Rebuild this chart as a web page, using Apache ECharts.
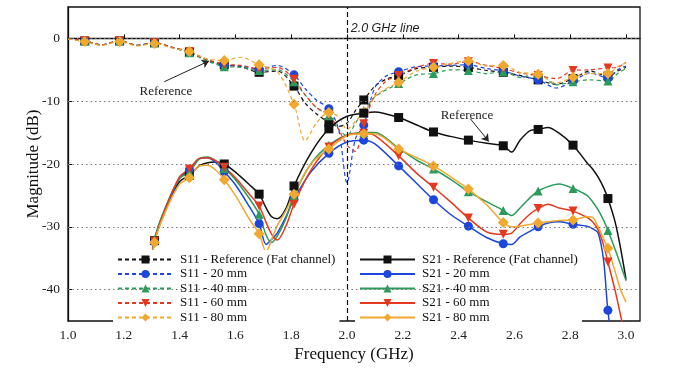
<!DOCTYPE html>
<html>
<head>
<meta charset="utf-8">
<script src="https://cdn.jsdelivr.net/npm/echarts@6.0.0/dist/echarts.min.js"></script>
<style>
  html, body { margin: 0; padding: 0; background: #fff; }
  #chart { width: 681px; height: 368px; }
</style>
</head>
<body>
<div id="chart"></div>
<script>
// frequencies where the markers sit
const MARKS = [1.06, 1.185, 1.31, 1.435, 1.56, 1.685, 1.81, 1.935, 2.06, 2.185, 2.31, 2.435, 2.56, 2.685, 2.81, 2.935];
const X_TICKS = [1.0, 1.2, 1.4, 1.6, 1.8, 2.0, 2.2, 2.4, 2.6, 2.8, 3.0];
const Y_TICKS = [0, -10, -20, -30, -40];

// S11 (dashed)
const F11 = [1.0, 1.03, 1.06, 1.12, 1.185, 1.25, 1.31, 1.37, 1.435, 1.5, 1.56, 1.62, 1.685, 1.75, 1.81, 1.85, 1.89, 1.935, 1.97, 2.0,
  2.03, 2.06, 2.1, 2.14, 2.185, 2.25, 2.31, 2.37, 2.435, 2.5, 2.56, 2.62, 2.685, 2.75, 2.81, 2.87, 2.935, 2.97, 3.0];
const S11_REF = [-0.1, -0.2, -0.4, -1.0, -0.4, -1.1, -0.7, -1.4, -2.2, -3.4, -4.2, -4.5, -5.4, -5.2, -7.6, -10.3, -12.0, -13.4, -14.0, -13.5,
  -11.5, -9.8, -7.6, -6.5, -5.9, -4.8, -4.6, -4.4, -4.6, -5.1, -5.4, -5.9, -6.6, -7.3, -6.4, -5.2, -6.0, -5.2, -4.6];
const S11_20 = [-0.1, -0.2, -0.4, -1.0, -0.4, -1.1, -0.7, -1.4, -2.2, -3.5, -4.3, -4.4, -4.9, -4.3, -5.8, -8.0, -9.8, -11.2, -14.5, -23.0,
  -16.0, -13.8, -7.8, -6.0, -5.3, -4.5, -4.4, -4.3, -4.2, -4.8, -5.2, -6.0, -6.6, -7.9, -6.8, -5.5, -6.3, -5.0, -4.4];
const S11_40 = [-0.1, -0.2, -0.4, -1.0, -0.4, -1.1, -0.7, -1.4, -2.3, -3.6, -4.5, -4.6, -5.1, -5.0, -6.9, -9.0, -11.0, -12.3, -14.5, -15.5,
  -13.5, -11.5, -9.3, -8.2, -7.2, -5.8, -5.6, -5.0, -5.1, -5.6, -5.3, -6.2, -5.6, -7.4, -6.9, -6.6, -6.8, -5.6, -4.8];
const S11_60 = [-0.1, -0.2, -0.4, -1.0, -0.4, -1.1, -0.7, -1.4, -2.1, -3.4, -4.1, -4.3, -4.8, -4.6, -6.5, -9.0, -11.0, -12.2, -14.5, -17.0,
  -18.0, -13.6, -9.0, -6.8, -5.9, -4.6, -4.0, -4.1, -3.7, -4.3, -4.8, -5.5, -5.9, -6.4, -5.1, -5.0, -4.7, -4.6, -3.8];
const S11_80 = [-0.1, -0.3, -0.5, -1.1, -0.5, -1.2, -0.8, -1.5, -2.1, -3.3, -3.5, -3.0, -4.2, -5.3, -10.5, -16.3, -13.5, -11.8, -12.5, -14.5,
  -13.2, -11.8, -9.3, -8.0, -7.0, -5.2, -4.6, -4.0, -3.6, -4.4, -4.3, -5.4, -5.7, -7.1, -6.2, -5.6, -5.6, -4.5, -3.9];

// S21 (solid)
const F21 = [1.26, 1.31, 1.35, 1.40, 1.435, 1.47, 1.5, 1.53, 1.56, 1.6, 1.65, 1.685, 1.71, 1.73, 1.75, 1.78, 1.81, 1.87, 1.935, 2.0,
  2.06, 2.1, 2.185, 2.25, 2.31, 2.37, 2.435, 2.5, 2.56, 2.59, 2.62, 2.66, 2.685, 2.72, 2.76, 2.81, 2.86, 2.88, 2.9, 2.92,
  2.935, 2.96, 2.98, 3.0];
const S21_REF = [-47, -32.2, -27, -22.8, -21.8, -20.3, -19.8, -19.7, -20.0, -21.3, -23.3, -24.8, -27, -28.4, -28.7, -27.2, -23.5, -18.3, -14.4, -12.4,
  -11.9, -11.7, -12.6, -13.8, -14.9, -15.6, -16.2, -16.7, -17.1, -18.1, -16.2, -14.6, -14.5, -14.2, -15.1, -17.0, -19.8, -20.8, -22.1, -23.8,
  -25.5, -29.1, -33.3, -38.4];
const S21_20 = [-47, -32.4, -27.3, -22.3, -20.9, -19.2, -19.0, -19.8, -21.2, -23.3, -26.8, -29.5, -32.8, -32.0, -31.0, -28.5, -25.6, -21.3, -18.3, -16.5,
  -16.2, -16.8, -20.3, -23.1, -25.7, -28.0, -29.9, -31.7, -32.7, -32.8, -31.6, -30.6, -30.0, -29.4, -29.2, -29.6, -29.9, -30.3, -31.0, -35.5,
  -43.3, -50, -50, -50];
const S21_40 = [-47, -32.0, -26.8, -22.3, -21.3, -19.2, -18.9, -19.5, -20.7, -22.5, -25.5, -28.0, -31.3, -32.5, -31.5, -28.8, -25.0, -20.0, -17.0, -15.4,
  -15.0, -15.0, -17.5, -19.4, -20.8, -22.4, -24.4, -26.0, -27.4, -28.2, -27.0, -25.2, -24.3, -23.6, -23.2, -23.9, -25.0, -26.0, -27.3, -29.0,
  -30.6, -33.5, -36.0, -38.6];
const S21_60 = [-47, -32.3, -27.0, -22.0, -20.8, -19.1, -19.0, -19.5, -20.5, -22.2, -24.8, -26.7, -29.3, -31.2, -32.1, -30.0, -26.4, -21.0, -17.3, -15.4,
  -15.1, -15.5, -18.7, -21.5, -23.7, -26.0, -28.6, -30.8, -31.2, -31.0, -29.5, -27.8, -27.1, -26.4, -27.0, -27.5, -28.5, -29.2, -30.5, -33.0,
  -35.6, -40.0, -44.0, -48.0];
const S21_80 = [-47, -32.5, -27.5, -23.2, -22.2, -20.3, -20.2, -21.0, -22.5, -25.0, -28.8, -31.1, -34.0, -32.0, -29.8, -27.5, -24.8, -20.0, -17.6, -15.5,
  -15.2, -15.2, -17.6, -19.0, -20.3, -22.0, -24.0, -26.5, -29.3, -30.0, -29.9, -29.6, -29.4, -29.2, -29.0, -28.9, -28.4, -28.5, -30.0, -32.0,
  -33.4, -37.0, -40.0, -42.0];

const SERIF = "'Liberation Serif', 'Times New Roman', serif";
const BLACK = '#111', BLUE = '#1c46dc', GREEN = '#2a9b5b', RED = '#e5391f', ORANGE = '#f0a92e';

// only marker frequencies get a symbol
function build(freqs, vals) {
  return freqs.map((f, i) => MARKS.some(m => Math.abs(m - f) < 1e-6)
    ? [f, vals[i]]
    : { value: [f, vals[i]], symbol: 'none' });
}

function mk(name, freqs, vals, color, symbol, dashed) {
  return {
    name: name,
    type: 'line',
    data: build(freqs, vals),
    smooth: 0.3,
    symbol: symbol,
    symbolSize: symbol === 'diamond' ? 11 : 9,
    symbolRotate: name.endsWith('60 mm') ? 180 : 0,
    showSymbol: true,
    clip: true,
    z: 3,
    itemStyle: { color: color },
    lineStyle: { color: color, width: dashed ? 1.2 : 1.5, type: dashed ? [4, 3] : 'solid' },
    emphasis: { disabled: true },
    animation: false
  };
}

const s11Names = ['S11 - Reference (Fat channel)', 'S11 - 20 mm', 'S11 - 40 mm', 'S11 - 60 mm', 'S11 - 80 mm'];
const s21Names = ['S21 - Reference (Fat channel)', 'S21 - 20 mm', 'S21 - 40 mm', 'S21 - 60 mm', 'S21 - 80 mm'];

const series = [
  mk(s11Names[0], F11, S11_REF, BLACK, 'rect', true),
  mk(s11Names[1], F11, S11_20, BLUE, 'circle', true),
  mk(s11Names[2], F11, S11_40, GREEN, 'triangle', true),
  mk(s11Names[3], F11, S11_60, RED, 'triangle', true),
  mk(s11Names[4], F11, S11_80, ORANGE, 'diamond', true),
  mk(s21Names[0], F21, S21_REF, BLACK, 'rect', false),
  mk(s21Names[1], F21, S21_20, BLUE, 'circle', false),
  mk(s21Names[2], F21, S21_40, GREEN, 'triangle', false),
  mk(s21Names[3], F21, S21_60, RED, 'triangle', false),
  mk(s21Names[4], F21, S21_80, ORANGE, 'diamond', false)
];

const txt = { fontFamily: SERIF, fontSize: 13, color: '#222' };

// gridlines, 2.0 GHz line and the annotations
series.unshift({
  name: 'annot',
  type: 'line',
  data: [],
  z: 1,
  animation: false,
  markLine: {
    silent: true,
    animation: false,
    symbol: 'none',
    label: { show: false },
    data: Y_TICKS.map(v => ({ yAxis: v, lineStyle: { type: [1.5, 3], color: '#777', width: 1 } }))
      .concat([
        { xAxis: 2.0, lineStyle: { type: [5, 3], color: '#111', width: 1.2 } },
        [{ coord: [1.345, -6.9], symbol: 'none', lineStyle: { type: 'solid', color: '#222', width: 1 } },
         { coord: [1.505, -3.6], symbol: 'arrow', symbolSize: 7 }],
        [{ coord: [2.442, -12.8], symbol: 'none', lineStyle: { type: 'solid', color: '#222', width: 1 } },
         { coord: [2.508, -16.4], symbol: 'arrow', symbolSize: 7 }]
      ])
  },
  markPoint: {
    silent: true,
    animation: false,
    symbol: 'circle',
    symbolSize: 1,
    itemStyle: { color: 'rgba(0,0,0,0)' },
    data: [
      { coord: [1.351, -8.5], label: Object.assign({ show: true, position: 'inside', formatter: 'Reference' }, txt) },
      { coord: [2.43, -12.3], label: Object.assign({ show: true, position: 'inside', formatter: 'Reference' }, txt) },
      { coord: [2.008, 1.55], label: { show: true, position: 'right', distance: 1, formatter: '2.0 GHz line',
        fontFamily: "'Liberation Sans', Arial, sans-serif", fontStyle: 'italic', fontSize: 12.5, color: '#222' } }
    ]
  }
});

const legendBase = {
  orient: 'vertical',
  top: 250,
  itemWidth: 55,
  itemHeight: 10,
  itemGap: 1.5,
  backgroundColor: '#fff',
  padding: [3, 4, 2, 4],
  selectedMode: false,
  textStyle: { fontFamily: SERIF, fontSize: 13, color: '#111', padding: [0, 0, 0, 2] }
};

const chart = echarts.init(document.getElementById('chart'), null, { renderer: 'canvas' });
chart.setOption({
  backgroundColor: '#fff',
  animation: false,
  grid: { left: 68, right: 41, top: 7, bottom: 39, show: true, borderColor: '#111', borderWidth: 1.3, backgroundColor: 'transparent' },
  legend: [
    Object.assign({}, legendBase, { left: 113, data: s11Names }),
    Object.assign({}, legendBase, { left: 355, data: s21Names })
  ],
  xAxis: {
    type: 'value',
    min: 1.0,
    max: 3.05,
    name: 'Frequency (GHz)',
    nameLocation: 'middle',
    nameGap: 25,
    nameMoveOverlap: false,
    nameTextStyle: { fontFamily: SERIF, fontSize: 17, color: '#111' },
    axisLine: { lineStyle: { color: '#111', width: 1.3 } },
    axisTick: { inside: true, length: 4, customValues: X_TICKS, lineStyle: { color: '#111' } },
    axisLabel: { customValues: X_TICKS, formatter: v => v.toFixed(1), margin: 7, fontFamily: SERIF, fontSize: 13.5, color: '#222' },
    splitLine: { show: false }
  },
  yAxis: {
    type: 'value',
    min: -45,
    max: 5,
    name: 'Magnitude (dB)',
    nameLocation: 'middle',
    nameGap: 26,
    nameMoveOverlap: false,
    nameTextStyle: { fontFamily: SERIF, fontSize: 17, color: '#111' },
    axisLine: { lineStyle: { color: '#111', width: 1.3 } },
    axisTick: { inside: true, length: 4, customValues: Y_TICKS, lineStyle: { color: '#111' } },
    axisLabel: { customValues: Y_TICKS, margin: 8, fontFamily: SERIF, fontSize: 13.5, color: '#222' },
    splitLine: { show: false }
  },
  series: series
});
</script>
</body>
</html>
